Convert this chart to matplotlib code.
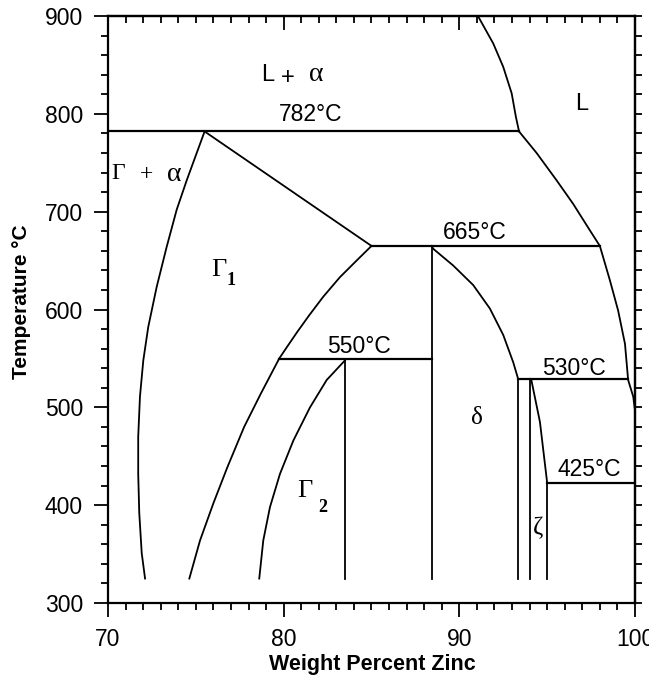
import matplotlib
matplotlib.use("Agg")
import matplotlib.pyplot as plt
from matplotlib.ticker import MultipleLocator

plt.rcParams['font.family'] = ['Liberation Sans', 'DejaVu Sans']

# phase boundaries (wt% Zn, temperature in C)
liq_top_x = [91.06, 91.93, 92.5, 92.98, 93.22, 93.4]
liq_top_y = [900, 872, 848, 821, 797, 782]
liq_low_x = [93.4, 94.4, 95.54, 96.48, 97.43, 98.0, 98.57, 99.04, 99.43, 99.61, 99.9, 100.0]
liq_low_y = [782, 760, 732, 708, 681, 665, 630, 599, 565, 528, 511, 497]

ga_x = [75.5, 75.05, 74.48, 73.91, 73.34, 72.77, 72.29, 72.01, 71.82, 71.72, 71.72, 71.78, 71.92, 72.11]
ga_y = [782, 760, 732, 702, 664, 623, 582, 548, 511, 470, 432, 392, 351, 325]

g1_x = [85.0, 84.15, 83.2, 82.25, 81.45, 80.77, 80.2, 79.75, 78.7, 77.75, 76.8, 76.0, 75.24, 74.63]
g1_y = [665, 650, 633, 613, 594, 577, 562, 550, 514, 480, 439, 402, 364, 325]

g2_x = [83.49, 82.45, 81.5, 80.55, 79.79, 79.22, 78.84, 78.61]
g2_y = [548, 528, 500, 466, 432, 398, 364, 325]

delta_x = [88.42, 88.52, 89.65, 90.79, 91.74, 92.5, 93.07, 93.35]
delta_y = [665, 662, 645, 625, 601, 574, 546, 529]

zeta_x = [94.02, 94.1, 94.59, 95.0]
zeta_y = [529, 528, 485, 423]

tie_782 = (70.0, 93.4, 782)
tie_665 = (85.0, 98.0, 665)
tie_550 = (79.75, 88.42, 549)
tie_530 = (93.35, 99.61, 529)
tie_425 = (95.0, 100.0, 423)

vert_x = [83.49, 88.42, 93.35, 94.02, 95.0]
vert_top = [548, 665, 529, 529, 423]
vert_bot = 325

fig = plt.figure(figsize=(6.49, 6.79), dpi=100)
ax = fig.add_axes([0.1664, 0.1119, 0.8120, 0.8645])

lw = 1.3
for xs, ys in [(liq_top_x, liq_top_y), (liq_low_x, liq_low_y), (ga_x, ga_y),
               (g1_x, g1_y), (g2_x, g2_y), (delta_x, delta_y), (zeta_x, zeta_y)]:
    ax.plot(xs, ys, color="black", lw=lw)

ax.plot([75.5, 85.0], [782, 665], color="black", lw=lw)   # Gamma1 / L+alpha line

for x0, x1, t in [tie_782, tie_665, tie_550, tie_530, tie_425]:
    ax.plot([x0, x1], [t, t], color="black", lw=1.6)

for x, top in zip(vert_x, vert_top):
    ax.plot([x, x], [top, vert_bot], color="black", lw=lw)

# temperature labels
for txt, x, y in [("782°C", 81.55, 799), ("665°C", 90.9, 679), ("550°C", 84.3, 562),
                  ("530°C", 96.55, 540), ("425°C", 97.4, 436)]:
    ax.text(x, y, txt, fontsize=16.5, ha="center", va="center")

serif = "Liberation Serif"
ax.text(79.08, 840, "L", fontsize=17, ha="center", va="center")
ax.text(80.24, 837, "+", fontsize=17, ha="center", va="center")
ax.text(81.84, 840, "α", fontsize=20, ha="center", va="center", family=serif)
ax.text(96.98, 810, "L", fontsize=17, ha="center", va="center")

ax.text(70.57, 739, "Γ", fontsize=17, ha="center", va="center", family=serif)
ax.text(72.2, 738, "+", fontsize=17, ha="center", va="center", family=serif)
ax.text(73.8, 738, "α", fontsize=20, ha="center", va="center", family=serif)

ax.text(76.3, 640, "Γ", fontsize=19, ha="center", va="center", family=serif)
ax.text(76.98, 630, "1", fontsize=13, ha="center", va="center", family=serif, weight="bold")
ax.text(81.22, 414, "Γ", fontsize=19, ha="center", va="center", family=serif)
ax.text(82.2, 398, "2", fontsize=13, ha="center", va="center", family=serif, weight="bold")

ax.text(91.0, 489, "δ", fontsize=18, ha="center", va="center", family=serif)
ax.text(94.5, 377, "ζ", fontsize=18, ha="center", va="center", family=serif)

ax.set_xlim(70, 100)
ax.set_ylim(300, 900)
ax.set_xticks([70, 80, 90, 100])
ax.set_yticks([300, 400, 500, 600, 700, 800, 900])
ax.xaxis.set_minor_locator(MultipleLocator(1))
ax.yaxis.set_minor_locator(MultipleLocator(20))
ax.tick_params(which="both", direction="out", width=1.3, labelsize=16.5,
               top=False, right=False)
ax.tick_params(which="major", length=10, pad=8)
ax.tick_params(which="minor", length=5)

top = ax.secondary_xaxis("top")
top.set_xticks([70, 80, 90, 100])
top.xaxis.set_minor_locator(MultipleLocator(1))
top.tick_params(which="both", direction="in", width=1.3, labeltop=False)
top.tick_params(which="major", length=10)
top.tick_params(which="minor", length=5)

right = ax.secondary_yaxis("right")
right.yaxis.set_major_locator(MultipleLocator(20))
right.tick_params(which="both", direction="out", width=1.3, length=5, labelright=False)

for side in ["left", "right", "top", "bottom"]:
    ax.spines[side].set_linewidth(1.6)
top.spines["top"].set_linewidth(1.6)
right.spines["right"].set_linewidth(1.6)

ax.set_xlabel("Weight Percent Zinc", fontsize=15.5, weight="bold")
ax.set_ylabel("Temperature °C", fontsize=15, weight="bold")
ax.xaxis.set_label_coords(0.501, -0.087)
ax.yaxis.set_label_coords(-0.146, 0.514)

fig.savefig("out.png", dpi=100)
